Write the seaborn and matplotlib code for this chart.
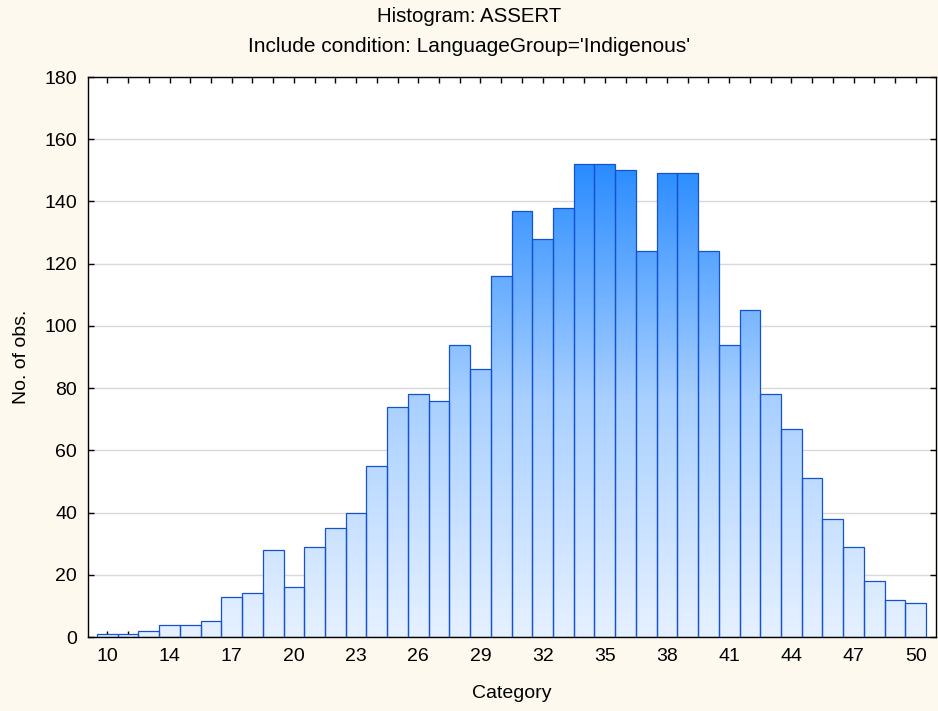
import numpy as np
import matplotlib
matplotlib.use('Agg')
import matplotlib.pyplot as plt
from matplotlib.colors import LinearSegmentedColormap
import seaborn as sns
import pandas as pd

# bar categories (Statistica labels the first bin "10")
categories = ['10'] + [str(v) for v in range(12, 51)]
counts = [1, 1, 2, 4, 4, 5, 13, 14, 28, 16,
          29, 35, 40, 55, 74, 78, 76, 94, 86, 116,
          137, 128, 138, 152, 152, 150, 124, 149, 149, 124,
          94, 105, 78, 67, 51, 38, 29, 18, 12, 11]
tick_labels = ['10', '14', '17', '20', '23', '26', '29', '32',
               '35', '38', '41', '44', '47', '50']
y_ticks = [0, 20, 40, 60, 80, 100, 120, 140, 160, 180]

sns.set_theme(style='white')
plt.rcParams['font.family'] = ['Liberation Sans', 'DejaVu Sans']

df = pd.DataFrame({'category': categories, 'count': counts})

bg = '#fdf9ee'
fig = plt.figure(figsize=(9.38, 7.11), dpi=100, facecolor=bg)
ax = fig.add_axes([88 / 938, 1 - 637 / 711, 848 / 938, 560 / 711])
ax.set_facecolor('white')

sns.barplot(data=df, x='category', y='count', order=categories,
            width=1.0, color='#3d8fff', ax=ax, zorder=3)

# vertical gradient fill for each bar, light at the base
cmap = LinearSegmentedColormap.from_list('bluegrad', ['#e6f1ff', '#a9d0ff', '#2a8cff'])
vmax = max(counts)
for patch in ax.patches:
    x0, w, h = patch.get_x(), patch.get_width(), patch.get_height()
    patch.set_facecolor('none')
    patch.set_edgecolor('#1352d0')
    patch.set_linewidth(0.9)
    grad = np.linspace(0, h, 256).reshape(-1, 1)
    im = ax.imshow(grad, extent=[x0, x0 + w, 0, h], origin='lower', cmap=cmap,
                   vmin=0, vmax=vmax, aspect='auto', zorder=2, interpolation='bilinear')
    im.set_clip_path(patch)

ax.set_xlim(-0.934, 39.98)
ax.set_ylim(0, 180)
ax.set_yticks(y_ticks)
ax.set_xticks(list(range(0, 40, 3)), tick_labels)
ax.set_xticks(range(40), minor=True)
ax.yaxis.grid(True, color='#d9d9d9', lw=1.0, zorder=0)
ax.set_axisbelow(True)

ax.tick_params(which='both', direction='in', top=True, right=True, bottom=True, left=True,
               length=4, width=1, color='black', labelsize=14, labelcolor='black', pad=8)
for s in ax.spines.values():
    s.set_visible(True)
    s.set_color('black')
    s.set_linewidth(1.0)

ax.set_xlabel('Category', fontsize=14, labelpad=14, color='black')
ax.set_ylabel('No. of obs.', fontsize=14, labelpad=10, color='black')

fig.text(0.5, 1 - 16 / 711, 'Histogram: ASSERT', ha='center', va='center',
         fontsize=14.7, color='black')
fig.text(0.5, 1 - 47 / 711, "Include condition: LanguageGroup='Indigenous'",
         ha='center', va='center', fontsize=15, color='black')

fig.savefig('out.png', dpi=100, facecolor=bg)
